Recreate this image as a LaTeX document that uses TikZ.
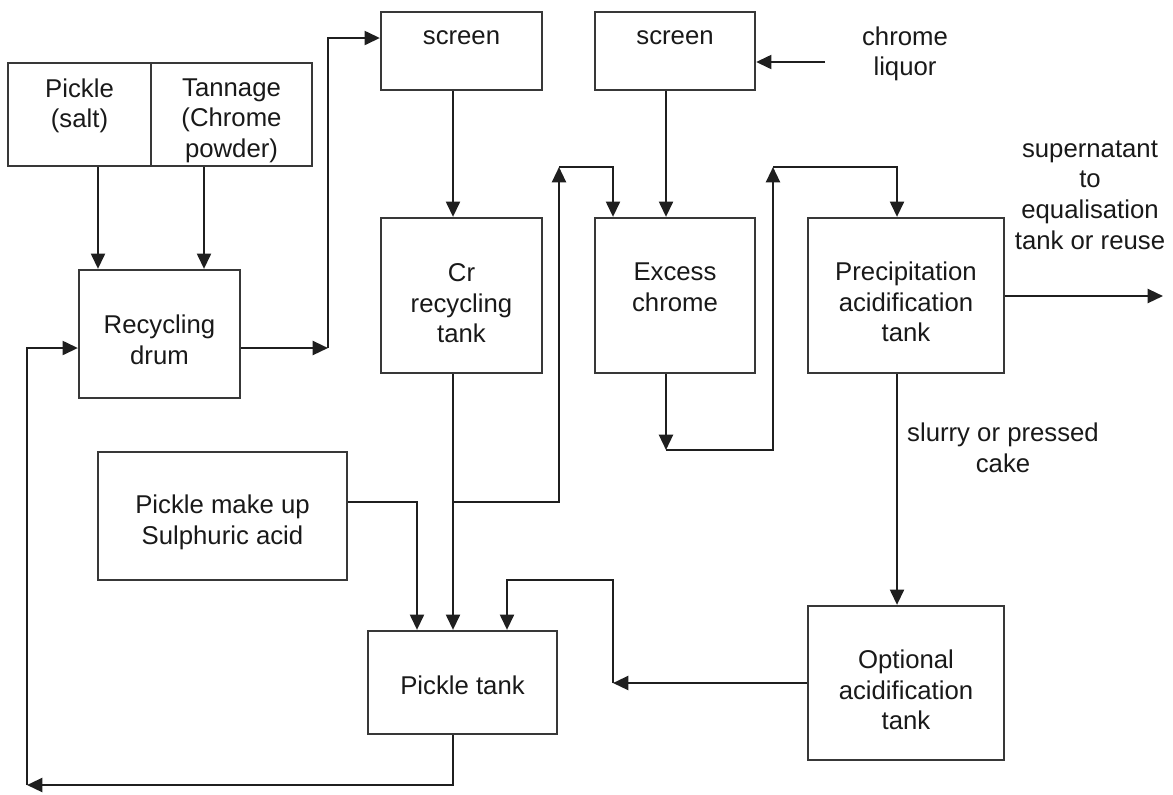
\documentclass[tikz,border=0pt]{standalone}
\usepackage{fontspec}
\setmainfont{Liberation Sans}
\usetikzlibrary{arrows.meta}
% centred block of lines, lifted or lowered inside its box without changing the box size
\newcommand\lbl[2]{\raisebox{#1}[\height][\depth]{\begin{tabular}{@{}c@{}}#2\end{tabular}}}
\begin{document}
\begin{tikzpicture}[x=0.75pt,y=-0.75pt,
  every node/.style={font=\fontsize{19.3}{22.9}\selectfont, text=black!90},
  box/.style={draw=black!78, line width=1.7pt, inner sep=0pt},
  link/.style={draw=black!88, line width=1.7pt},
  arr/.style={link, -{Triangle[length=11.5pt,width=10.5pt]}},
  note/.style={align=center, inner sep=0pt}]
\useasboundingbox (0,0) rectangle (1173,794);

% process boxes
\node[box, minimum width=107.25pt, minimum height=77.25pt] (pick) at (79.5,114.5) {\lbl{6pt}{Pickle\\(salt)}};
\node[box, minimum width=120.75pt, minimum height=77.25pt] (tann) at (231.5,114.5) {\lbl{-4.5pt}{Tannage\\(Chrome\\powder)}};
\node[box, minimum width=120.75pt, minimum height=96pt] (drum) at (159.5,334) {\lbl{-6.75pt}{Recycling\\drum}};
\node[box, minimum width=120.75pt, minimum height=58.5pt] (scr1) at (461.5,51) {\lbl{9.75pt}{screen}};
\node[box, minimum width=120pt, minimum height=58.5pt] (scr2) at (675,51) {\lbl{9.75pt}{screen}};
\node[box, minimum width=120.75pt, minimum height=116.25pt] (crt) at (461.5,295.5) {\lbl{-7.9pt}{Cr\\recycling\\tank}};
\node[box, minimum width=120pt, minimum height=116.25pt] (exc) at (675,295.5) {\lbl{4.1pt}{Excess\\chrome}};
\node[box, minimum width=147pt, minimum height=116.25pt] (prec) at (906,295.5) {\lbl{-7.1pt}{Precipitation\\acidification\\tank}};
\node[box, minimum width=147pt, minimum height=115.5pt] (opt) at (906,683) {\lbl{-7.5pt}{Optional\\acidification\\tank}};
\node[box, minimum width=186.75pt, minimum height=96pt] (mkup) at (222.5,516) {\lbl{-5.25pt}{Pickle make up\\Sulphuric acid}};
\node[box, minimum width=141.75pt, minimum height=77.25pt] (ptank) at (462.5,682.5) {\lbl{-4.1pt}{Pickle tank}};

% free labels
\node[note] (liq) at (905,54) {chrome\\liquor};
\node[note] (sup) at (1090,195) {supernatant\\to\\equalisation\\tank or reuse};
\node[note] (slurry) at (1003,448) {slurry or pressed\\cake};

% routing guides
\coordinate (xa) at (98,0);
\coordinate (xb) at (204,0);
\coordinate (k1) at (328,348);
\coordinate (k2) at (328,38);
\coordinate (cl) at (825,62);
\coordinate (xc) at (453,0);
\coordinate (xr) at (559,0);
\coordinate (xe) at (613,0);
\coordinate (xs) at (666,0);
\coordinate (xt) at (773,0);
\coordinate (xp) at (897,0);
\coordinate (xm) at (417,0);
\coordinate (xo) at (507,0);
\coordinate (xl) at (27,0);
\coordinate (ytop) at (0,167);
\coordinate (yex) at (0,450);
\coordinate (ybr) at (0,502);
\coordinate (yrt) at (0,580);
\coordinate (yop) at (0,683);
\coordinate (ybot) at (0,785);
\coordinate (yin) at (0,348);
\coordinate (supend) at (1163,296);

% pickle and tannage into the drum
\draw[arr] (pick.south -| xa) -- (drum.north -| xa);
\draw[arr] (tann.south -| xb) -- (drum.north -| xb);

% drum to first screen
\draw[arr] (drum.east |- k1) -- (k1);
\draw[arr] (k1) -- (k2) -- (scr1.west |- k2);

% chrome liquor into second screen
\draw[arr] (cl) -- (scr2.east |- cl);

% screens down to the tanks
\draw[arr] (scr1.south -| xc) -- (crt.north -| xc);
\draw[arr] (scr2.south -| xs) -- (exc.north -| xs);

% Cr recycling tank to pickle tank, with branch to excess chrome
\draw[arr] (crt.south -| xc) -- (ptank.north -| xc);
\draw[arr] (xc |- ybr) -- (xr |- ybr) -- (xr |- ytop);
\draw[arr] (xr |- ytop) -- (xe |- ytop) -- (exc.north -| xe);

% excess chrome to precipitation tank
\draw[arr] (exc.south -| xs) -- (xs |- yex);
\draw[arr] (xs |- yex) -- (xt |- yex) -- (xt |- ytop);
\draw[arr] (xt |- ytop) -- (xp |- ytop) -- (prec.north -| xp);

% precipitation outputs
\draw[arr] (prec.east |- supend) -- (supend);
\draw[arr] (prec.south -| xp) -- (opt.north -| xp);

% optional acidification back to the pickle tank
\draw[arr] (opt.west |- yop) -- (xe |- yop);
\draw[arr] (xe |- yop) -- (xe |- yrt) -- (xo |- yrt) -- (ptank.north -| xo);

% pickle make up into the pickle tank
\draw[arr] (mkup.east |- ybr) -- (xm |- ybr) -- (ptank.north -| xm);

% pickle tank back to the drum
\draw[arr] (ptank.south -| xc) -- (xc |- ybot) -- (xl |- ybot);
\draw[arr] (xl |- ybot) -- (xl |- yin) -- (drum.west |- yin);
\end{tikzpicture}
\end{document}
